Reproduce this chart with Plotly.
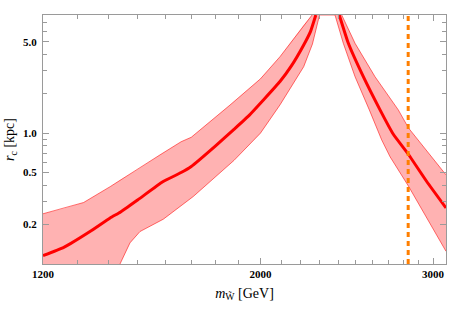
import numpy as np
import plotly.graph_objects as go

# ---- data (m in GeV, r_c in kpc) ----
# left branch
m_cen_L = [1200, 1260, 1340, 1405, 1440, 1500, 1590, 1660, 1700, 1800, 1877, 1950, 2094, 2150, 2214, 2250, 2278]
r_cen_L = [0.116, 0.134, 0.177, 0.225, 0.25, 0.31, 0.425, 0.50, 0.556, 0.80, 1.06, 1.38, 2.48, 3.25, 4.72, 6.0, 8.0]
m_up_L = [1200, 1260, 1320, 1405, 1440, 1500, 1580, 1660, 1700, 1862, 2000, 2094, 2214, 2258]
r_up_L = [0.242, 0.266, 0.295, 0.39, 0.44, 0.53, 0.683, 0.86, 0.93, 1.64, 2.6, 3.84, 6.7, 8.0]
m_lo_L = [1438, 1472, 1507, 1592, 1708, 1880, 2000, 2094, 2214, 2260, 2298]
r_lo_L = [0.1, 0.145, 0.177, 0.22, 0.328, 0.62, 1.0, 1.644, 3.22, 4.8, 8.0]
# right branch
m_cen_R = [2407, 2459, 2547, 2649, 2733, 2831, 2956, 3093]
r_cen_R = [8.0, 4.86, 2.70, 1.506, 0.98, 0.69, 0.427, 0.268]
m_up_R = [2421, 2498, 2618, 2765, 2833, 3093]
r_up_R = [8.0, 4.86, 2.70, 1.506, 1.092, 0.48]
m_lo_R = [2383, 2430, 2498, 2583, 2659, 2712, 2831, 3093]
r_lo_R = [8.0, 4.86, 2.70, 1.506, 0.889, 0.66, 0.395, 0.125]

m_limit = 2830  # dashed orange line

x_range = [1200, 3093]
y_range = [0.1, 8.0]

x_major = [1200, 2000, 3000]
x_major_text = ["1200", "2000", "3000"]
x_minor = [1300, 1400, 1500, 1600, 1700, 1800, 1900, 2100, 2200, 2300, 2400, 2500,
           2600, 2700, 2800, 2900]
y_major = [0.2, 0.5, 1.0, 5.0]
y_major_text = ["0.2", "0.5", "1.0", "5.0"]
y_minor = [0.3, 0.4, 0.6, 0.7, 0.8, 0.9, 2, 3, 4, 6, 7]

FILL = "rgba(255,0,0,0.3)"
EDGE = "rgba(255,0,0,0.55)"
RED = "rgb(255,0,0)"
ORANGE = "rgb(255,127,0)"
AXC = "#9a9a9a"

fig = go.Figure()

# band fills
fig.add_trace(go.Scatter(
    x=m_up_L + m_lo_L[::-1] + [x_range[0]],
    y=r_up_L + r_lo_L[::-1] + [y_range[0]],
    fill="toself", fillcolor=FILL, mode="none", hoverinfo="skip"))
fig.add_trace(go.Scatter(
    x=m_up_R + m_lo_R[::-1],
    y=r_up_R + r_lo_R[::-1],
    fill="toself", fillcolor=FILL, mode="none", hoverinfo="skip"))

# band edges
fig.add_trace(go.Scatter(x=m_up_L + [None] + m_up_R, y=r_up_L + [None] + r_up_R,
                         mode="lines", line=dict(color=EDGE, width=1)))
fig.add_trace(go.Scatter(x=m_lo_L + m_lo_R, y=r_lo_L + r_lo_R,
                         mode="lines", line=dict(color=EDGE, width=1)))

# central curves
fig.add_trace(go.Scatter(x=m_cen_L, y=r_cen_L, mode="lines",
                         line=dict(color=RED, width=3, shape="spline", smoothing=0.4)))
fig.add_trace(go.Scatter(x=m_cen_R, y=r_cen_R, mode="lines",
                         line=dict(color=RED, width=3, shape="spline", smoothing=0.4)))

# vertical dashed limit
fig.add_trace(go.Scatter(x=[m_limit, m_limit], y=y_range, mode="lines",
                         line=dict(color=ORANGE, width=3, dash="5px,4px")))

tickfont = dict(family="Liberation Serif", size=11, color="black", weight="bold")

fig.update_layout(
    width=450, height=309,
    margin=dict(l=43, r=4, t=15, b=45),
    paper_bgcolor="white", plot_bgcolor="white",
    showlegend=False,
    font=dict(family="Liberation Serif", color="black"),
)
fig.update_xaxes(
    type="log", range=[np.log10(x_range[0]), np.log10(x_range[1])],
    tickmode="array", tickvals=x_major, ticktext=x_major_text,
    ticks="inside", ticklen=6, tickwidth=1, tickcolor=AXC,
    minor=dict(tickmode="array", tickvals=x_minor, ticks="inside", ticklen=4,
               tickwidth=1, tickcolor=AXC, showgrid=False),
    showline=True, linecolor=AXC, linewidth=1, mirror="allticks",
    showgrid=False, zeroline=False, tickfont=tickfont, automargin=False,
    title=dict(text="<i>m</i><sub>W\u0303</sub> [GeV]", font=dict(size=14, family="Liberation Serif"),
               standoff=8),
)
fig.update_yaxes(
    type="log", range=[np.log10(y_range[0]), np.log10(y_range[1])],
    tickmode="array", tickvals=y_major, ticktext=y_major_text,
    ticks="inside", ticklen=6, tickwidth=1, tickcolor=AXC,
    minor=dict(tickmode="array", tickvals=y_minor, ticks="inside", ticklen=4,
               tickwidth=1, tickcolor=AXC, showgrid=False),
    showline=True, linecolor=AXC, linewidth=1, mirror="allticks",
    showgrid=False, zeroline=False, tickfont=tickfont, ticklabelstandoff=3,
    automargin=False,
    title=dict(text="<i>r</i><sub>c</sub> [kpc]", font=dict(size=14, family="Liberation Serif"),
               standoff=5),
)

fig.write_html("out.html", config={"displayModeBar": False},
               post_script="document.body.style.margin='0';")
